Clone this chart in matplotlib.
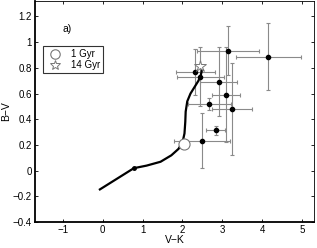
import matplotlib
matplotlib.use("Agg")
import matplotlib.pyplot as plt
from matplotlib.ticker import FuncFormatter

plt.rcParams['font.family'] = ['Liberation Sans', 'DejaVu Sans']

# observed clusters
vk = [3.14, 4.15, 2.32, 2.45, 2.91, 3.08, 2.675, 3.25, 2.83, 2.49]
bv = [0.935, 0.886, 0.766, 0.732, 0.693, 0.591, 0.519, 0.48, 0.316, 0.234]
vk_err = [0.78, 0.81, 0.49, 0.58, 0.46, 0.35, 0.53, 0.50, 0.245, 0.70]
bv_err = [0.19, 0.26, 0.18, 0.23, 0.27, 0.37, 0.05, 0.36, 0.035, 0.215]

# model track
track_vk = [-0.07, 0.78, 1.1, 1.45, 1.72, 1.9, 2.0, 2.05, 2.07, 2.08, 2.12, 2.2, 2.3, 2.4, 2.46, 2.49]
track_bv = [-0.145, 0.02, 0.04, 0.07, 0.12, 0.17, 0.22, 0.29, 0.38, 0.46, 0.54, 0.6, 0.65, 0.7, 0.745, 0.785]
kink_vk, kink_bv = 0.78, 0.02

age_labels = ['1 Gyr', '14 Gyr']
age_vk = [2.05, 2.45]
age_bv = [0.21, 0.815]

xticks = [-1, 0, 1, 2, 3, 4, 5]
yticks = [-0.4, -0.2, 0, 0.2, 0.4, 0.6, 0.8, 1.0, 1.2]

fig = plt.figure(figsize=(3.17, 2.48), dpi=100)
ax = fig.add_axes([0.110, 0.104, 0.881, 0.892])

ax.errorbar(vk, bv, xerr=vk_err, yerr=bv_err, fmt='none', ecolor='#8a8a8a',
            elinewidth=0.8, capsize=1.5, capthick=0.8, zorder=2)
ax.plot(vk, bv, 'o', color='black', markersize=3, zorder=4)

ax.plot(track_vk, track_bv, '-', color='black', linewidth=1.6, zorder=3)
ax.plot([kink_vk], [kink_bv], 'o', color='black', markersize=2.5, zorder=3)

h1, = ax.plot([age_vk[0]], [age_bv[0]], 'o', markersize=8, markerfacecolor='white',
              markeredgecolor='#777777', markeredgewidth=0.8, linestyle='none', zorder=5)
h2, = ax.plot([age_vk[1]], [age_bv[1]], '*', markersize=9, markerfacecolor='white',
              markeredgecolor='#777777', markeredgewidth=0.7, linestyle='none', zorder=5)

leg = ax.legend([h1, h2], age_labels, loc='upper left', bbox_to_anchor=(0.029, 0.796),
                fontsize=7, frameon=True, fancybox=False, borderpad=0.3,
                handletextpad=0.8, labelspacing=0.1, handlelength=1.8, borderaxespad=0,
                markerscale=0.85)
leg.get_frame().set_edgecolor('black')
leg.get_frame().set_linewidth(0.8)

ax.text(-1.0, 1.10, 'a)', fontsize=7.5, ha='left', va='center')

ax.set_xlim(-1.7, 5.3)
ax.set_ylim(-0.4, 1.32)
ax.set_xticks(xticks)
ax.set_yticks(yticks)

def fmt(v, pos):
    s = ('%g' % round(v, 2))
    return s.replace('-', '\u2212')

ax.xaxis.set_major_formatter(FuncFormatter(fmt))
ax.yaxis.set_major_formatter(FuncFormatter(fmt))
ax.tick_params(direction='in', length=2.5, width=0.6, labelsize=7, top=True, right=True, pad=2)

for s in ['left', 'bottom']:
    ax.spines[s].set_linewidth(1.3)
for s in ['top', 'right']:
    ax.spines[s].set_linewidth(0.6)

ax.set_xlabel('V\u2212K', fontsize=7.5, labelpad=0)
ax.set_ylabel('B\u2212V', fontsize=7.5, labelpad=1)

fig.savefig('out.png', dpi=100)
